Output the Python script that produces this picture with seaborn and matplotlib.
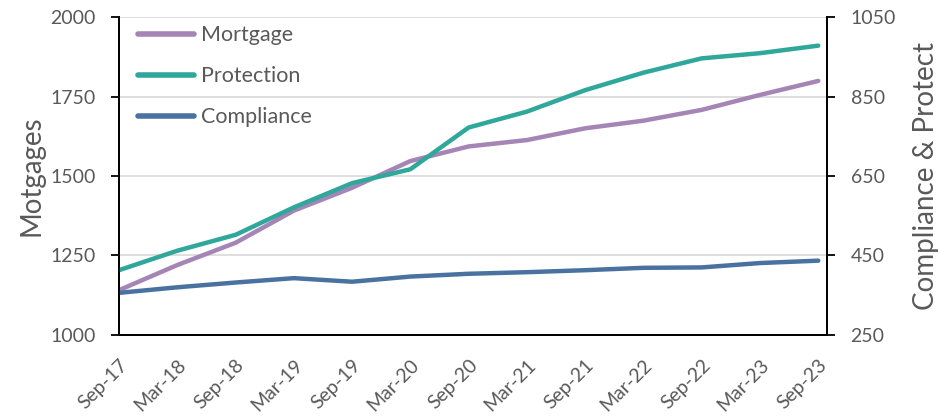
import pandas as pd
import numpy as np
import matplotlib.pyplot as plt
import seaborn as sns

sns.set_style("white")
plt.rcParams["font.family"] = ["Lato", "DejaVu Sans"]

periods = ["Sep-17", "Mar-18", "Sep-18", "Mar-19", "Sep-19", "Mar-20", "Sep-20",
           "Mar-21", "Sep-21", "Mar-22", "Sep-22", "Mar-23", "Sep-23"]
mortgage = [1141, 1220, 1290, 1391, 1463, 1547, 1593, 1613, 1650, 1674, 1708, 1755, 1799]
protection = [413, 462, 502, 571, 632, 667, 772, 812, 866, 910, 946, 959, 978]
compliance = [356, 370, 382, 393, 384, 397, 404, 408, 413, 419, 420, 431, 437]

left_ticks = [1000, 1250, 1500, 1750, 2000]
right_ticks = [250, 450, 650, 850, 1050]

C_MORT = "#A485B5"
C_PROT = "#2FA79B"
C_COMP = "#4A72A0"
TXT = "#595959"

df = pd.DataFrame({"x": np.arange(len(periods)), "Mortgage": mortgage,
                   "Protection": protection, "Compliance": compliance})

fig = plt.figure(figsize=(9.4, 4.19), dpi=100)
ax = fig.add_axes([0.1266, 0.2005, 0.7532, 0.7589])
ax2 = ax.twinx()

sns.lineplot(data=df, x="x", y="Mortgage", ax=ax, color=C_MORT, linewidth=3.2,
             solid_capstyle="round", label="Mortgage", legend=False)
sns.lineplot(data=df, x="x", y="Protection", ax=ax2, color=C_PROT, linewidth=3.2,
             solid_capstyle="round", label="Protection", legend=False)
sns.lineplot(data=df, x="x", y="Compliance", ax=ax2, color=C_COMP, linewidth=3.2,
             solid_capstyle="round", label="Compliance", legend=False)

ax.set_xlim(0, 12.15)
ax.set_ylim(1000, 2000)
ax2.set_ylim(250, 1050)
ax.set_yticks(left_ticks)
ax2.set_yticks(right_ticks)
ax.set_xticks(df["x"])
ax.set_xticklabels(periods, rotation=45, ha="right", rotation_mode="anchor")

ax.yaxis.grid(True, color="#D9D9D9", linewidth=1.2)
ax.set_axisbelow(True)

for a in (ax, ax2):
    a.spines["top"].set_visible(False)
    for s in ("left", "right", "bottom"):
        a.spines[s].set_color("black")
        a.spines[s].set_linewidth(1.3)
    a.tick_params(colors=TXT, labelsize=14, length=6, width=1.3, direction="out")
    a.tick_params(axis="both", color="black")
    a.tick_params(axis="y", pad=11)
ax.tick_params(axis="x", pad=9)

ax.set_xlabel("")
ax.set_ylabel("Motgages", color=TXT, fontsize=20, labelpad=4)
ax2.set_ylabel("Compliance & Protect", color=TXT, fontsize=20, labelpad=12)

h1, l1 = ax.get_legend_handles_labels()
h2, l2 = ax2.get_legend_handles_labels()
leg = ax2.legend(h1 + h2, l1 + l2, loc="upper left", frameon=False, fontsize=15.5,
                 handlelength=2.6, handletextpad=0.3, labelspacing=0.98,
                 bbox_to_anchor=(0.0, 1.035))
for line in leg.get_lines():
    line.set_linewidth(4)
for t in leg.get_texts():
    t.set_color(TXT)

plt.savefig("out.png", dpi=100)
plt.close()
